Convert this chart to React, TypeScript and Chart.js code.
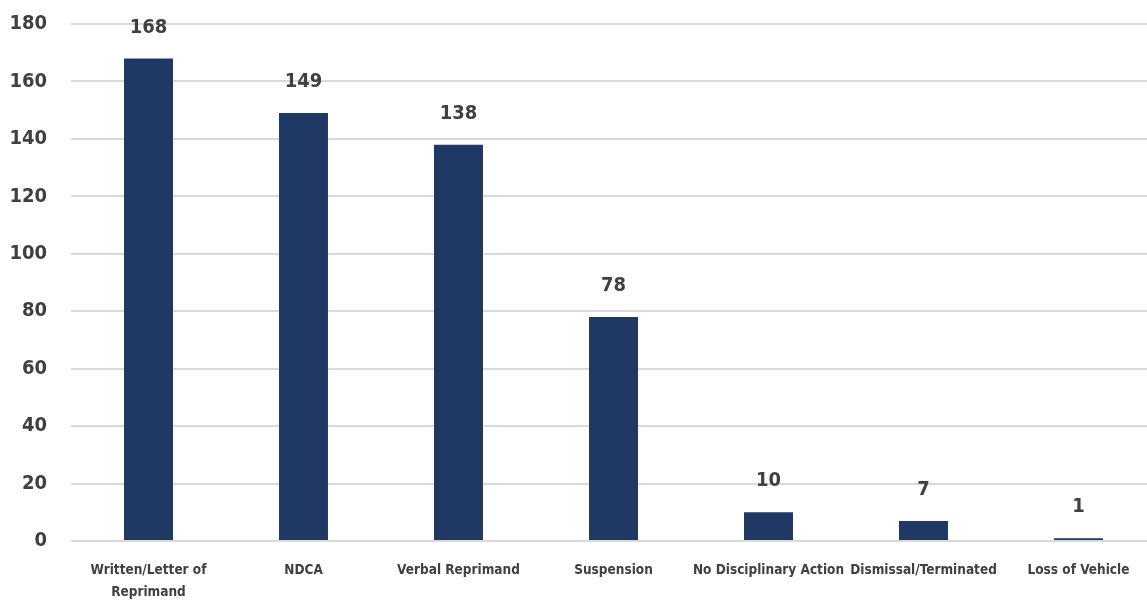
import React, { useEffect, useRef } from "react";
import { Chart, registerables } from "chart.js";

Chart.register(...registerables);

const categories: (string | string[])[] = [
  ["Written/Letter of", "Reprimand"],
  "NDCA",
  "Verbal Reprimand",
  "Suspension",
  "No Disciplinary Action",
  "Dismissal/Terminated",
  "Loss of Vehicle",
];
const values = [168, 149, 138, 78, 10, 7, 1];
const yTicks = [0, 20, 40, 60, 80, 100, 120, 140, 160, 180];

const FONT = '"DejaVu Sans Condensed", "Liberation Sans Narrow", sans-serif';
const TEXT = "#404040";
const BAR = "#203864";

const valueLabels = {
  id: "valueLabels",
  afterDatasetsDraw(chart: any) {
    const ctx = chart.ctx;
    const meta = chart.getDatasetMeta(0);
    ctx.save();
    ctx.font = `bold 20px ${FONT}`;
    ctx.fillStyle = TEXT;
    ctx.textAlign = "center";
    ctx.textBaseline = "middle";
    meta.data.forEach((el: any, i: number) => {
      ctx.fillText(String(values[i]), el.x, el.y - 31);
    });
    ctx.restore();
  },
};

export default function App() {
  const ref = useRef<HTMLCanvasElement>(null);
  useEffect(() => {
    document.body.style.margin = "0";
    const chart = new Chart(ref.current!, {
      type: "bar",
      data: {
        labels: categories,
        datasets: [
          {
            data: values,
            backgroundColor: BAR,
            categoryPercentage: 1,
            barPercentage: 0.316,
          },
        ],
      },
      options: {
        animation: false,
        responsive: false,
        maintainAspectRatio: false,
        layout: { padding: { top: 24, left: 0, right: 0, bottom: 0 } },
        plugins: { legend: { display: false }, tooltip: { enabled: false } },
        scales: {
          x: {
            grid: { display: false, drawTicks: false },
            border: { display: false },
            ticks: {
              autoSkip: false,
              maxRotation: 0,
              minRotation: 0,
              padding: 18,
              color: TEXT,
              font: { family: FONT, size: 13.5, weight: "bold", lineHeight: 1.65 },
            },
            afterFit(scale: any) {
              scale.height = 60;
              scale.paddingLeft = 0;
              scale.paddingRight = 0;
            },
          },
          y: {
            min: 0,
            max: 180,
            afterBuildTicks(scale: any) {
              scale.ticks = yTicks.map((v) => ({ value: v }));
            },
            grid: { color: "#d9d9d9", lineWidth: 2, drawTicks: false },
            border: { display: false },
            ticks: {
              padding: 24,
              color: TEXT,
              font: { family: FONT, size: 20, weight: "bold" },
            },
            afterFit(scale: any) {
              scale.width = 71;
              scale.paddingTop = 0;
              scale.paddingBottom = 0;
            },
          },
        },
      },
      plugins: [valueLabels],
    });
    return () => chart.destroy();
  }, []);
  return (
    <div style={{ width: 1147, height: 601, overflow: "hidden", position: "relative", background: "#fff" }}>
      <canvas ref={ref} width={1156} height={601} style={{ display: "block" }} />
    </div>
  );
}
